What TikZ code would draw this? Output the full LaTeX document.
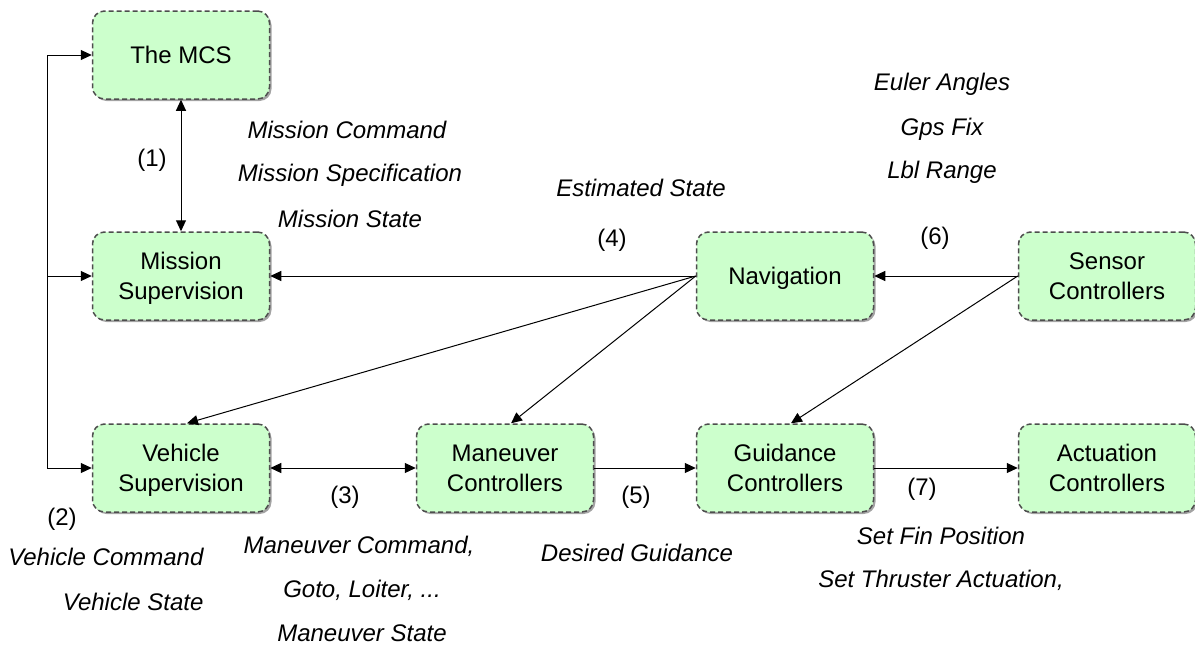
\documentclass[tikz,border=0pt]{standalone}
\usepackage{fontspec}
\setmainfont{Liberation Sans}
\usetikzlibrary{arrows.meta,shadows}
\definecolor{boxGreen}{HTML}{CCFFCC}
\definecolor{boxEdge} {HTML}{4D4D4D}
\tikzset{
  font=\fontsize{24}{30}\selectfont,
  block/.style={rectangle,rounded corners=12pt,draw=boxEdge,dash pattern=on 5pt off 3pt,line width=1.5pt,fill=boxGreen,
    minimum width=177pt,minimum height=88pt,align=center,inner sep=2pt,text depth=0pt,
    drop shadow={shadow xshift=2pt,shadow yshift=-2pt,opacity=.45,fill=black!80}},
  arrow/.style={-{Triangle[length=11pt,width=10pt]},draw=black,line width=1pt},
  dblarrow/.style={{Triangle[length=11pt,width=10pt]}-{Triangle[length=11pt,width=10pt]},draw=black,line width=1pt},
  msg/.style={font=\fontsize{24}{30}\selectfont\itshape},
  num/.style={font=\fontsize{24}{30}\selectfont},
}
\begin{document}
\begin{tikzpicture}[x=1pt,y=-1pt]
\useasboundingbox (0,0) rectangle (1195,646);

% boxes
\node[block] (mcs)   at (181,55)  {The MCS};
\node[block] (misup) at (181,276) {Mission\\Supervision};
\node[block] (vesup) at (181,468) {Vehicle\\Supervision};
\node[block] (manc)  at (505,468) {Maneuver\\Controllers};
\node[block] (nav)   at (785,276) {Navigation};
\node[block] (guid)  at (785,468) {Guidance\\Controllers};
\node[block] (sens)  at (1107,276) {Sensor\\Controllers};
\node[block] (act)   at (1107,468) {Actuation\\Controllers};

% left bus
\coordinate (busT) at (47,55);
\coordinate (busM) at (47,276);
\coordinate (busB) at (47,468);
\draw[line width=1pt] (busT) -- (busB);
\draw[arrow] (busT) -- (mcs.west);
\draw[arrow] (busM) -- (misup.west);
\draw[arrow] (busB) -- (vesup.west);

% links
\draw[dblarrow] (mcs.south) -- (misup.north);
\draw[arrow] (nav.west) -- (misup.east);
\draw[arrow] (nav.west) -- ([xshift=6pt]vesup.north);
\draw[arrow] (nav.west) -- ([xshift=6pt]manc.north);
\draw[arrow] (sens.west) -- (nav.east);
\draw[arrow] (sens.west) -- ([xshift=6pt]guid.north);
\draw[dblarrow] (vesup.east) -- (manc.west);
\draw[arrow] (manc.east) -- (guid.west);
\draw[arrow] (guid.east) -- (act.west);

% labels
\node[num] (n1) at (152,160) {(1)};
\node[msg] (m1a) at (347,130) {Mission Command};
\node[msg] (m1b) at (350,175) {Mission Specification};
\node[msg] (m1c) at (350,219) {Mission State};

\node[msg] (m4) at (641,188) {Estimated State};
\node[num] (n4) at (612,240) {(4)};

\node[msg] (m6a) at (942,84)  {Euler Angles};
\node[msg] (m6b) at (942,129) {Gps Fix};
\node[msg] (m6c) at (942,172) {Lbl Range};
\node[num] (n6) at (935,238) {(6)};

\node[num] (n2) at (62,519) {(2)};
\node[msg,anchor=east] (m2a) at (207,557) {Vehicle Command};
\node[msg,anchor=east] (m2b) at (207,602) {Vehicle State};

\node[num] (n3) at (345,497) {(3)};
\node[msg] (m3a) at (359,546) {Maneuver Command,};
\node[msg] (m3b) at (362,590) {Goto, Loiter, ...};
\node[msg] (m3c) at (362,633) {Maneuver State};

\node[num] (n5) at (636,497) {(5)};
\node[msg] (m5) at (637,553) {Desired Guidance};

\node[num] (n7) at (922,489) {(7)};
\node[msg] (m7a) at (941,536) {Set Fin Position};
\node[msg] (m7b) at (941,580) {Set Thruster Actuation,};

\end{tikzpicture}
\end{document}
